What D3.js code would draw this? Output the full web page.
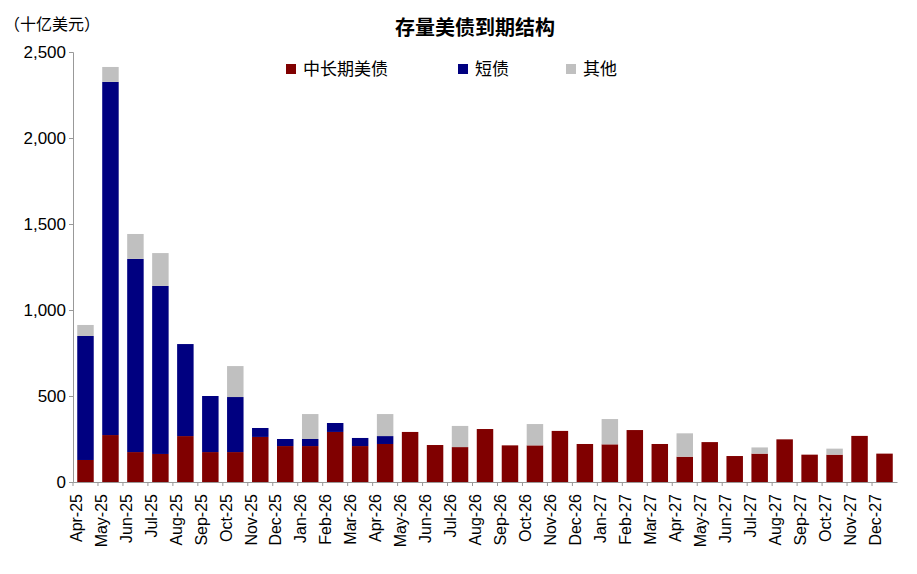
<!DOCTYPE html>
<html><head><meta charset="utf-8">
<script src="https://cdn.jsdelivr.net/npm/d3@7"></script>
<style>body{margin:0;background:#fff;font-family:"Noto Sans CJK SC","Liberation Sans",sans-serif;}</style>
</head><body><svg id="c" width="917" height="574"></svg>
<script>
const categories=["Apr-25","May-25","Jun-25","Jul-25","Aug-25","Sep-25","Oct-25","Nov-25","Dec-25","Jan-26","Feb-26","Mar-26","Apr-26","May-26","Jun-26","Jul-26","Aug-26","Sep-26","Oct-26","Nov-26","Dec-26","Jan-27","Feb-27","Mar-27","Apr-27","May-27","Jun-27","Jul-27","Aug-27","Sep-27","Oct-27","Nov-27","Dec-27"];
const longTerm=[128,273,174,163,267,174,174,262,209,209,291,209,221,291,215,203,308,213,213,297,221,219,302,221,147,232,151,165,248,159,159,268,165];
const bills=[721,2053,1123,977,535,326,320,52,41,41,52,47,46,0,0,0,0,0,0,0,0,0,0,0,0,0,0,0,0,0,0,0,0];
const other=[64,87,145,191,0,0,180,0,0,145,0,0,128,0,0,123,0,0,124,0,0,147,0,0,136,0,0,36,0,0,35,0,0];
const yTicks=[0,500,1000,1500,2000,2500];
const seriesNames=["中长期美债","短债","其他"];
const colors=["#800000","#000080","#c0c0c0"];

const svg=d3.select("#c");
const m={l:73,r:897,t:52,b:482};
const x=d3.scaleBand().domain(categories).range([m.l,m.r]).paddingInner(0.34).paddingOuter(0.17);
const y=d3.scaleLinear().domain([0,2500]).range([m.b,m.t]);
const data=categories.map((c,i)=>({c,"中长期美债":longTerm[i],"短债":bills[i],"其他":other[i]}));
const stack=d3.stack().keys(seriesNames)(data);
svg.selectAll("g.s").data(stack).join("g").attr("fill",(d,i)=>colors[i])
 .selectAll("rect").data(d=>d).join("rect")
 .attr("x",d=>x(d.data.c)).attr("width",x.bandwidth())
 .attr("y",d=>y(d[1])).attr("height",d=>y(d[0])-y(d[1]));

const ya=svg.append("g").attr("transform",`translate(${m.l},0)`)
 .call(d3.axisLeft(y).tickValues(yTicks).tickFormat(d3.format(",")).tickSize(4));
ya.select(".domain").attr("stroke","#999");
ya.selectAll(".tick line").attr("stroke","#999");
ya.selectAll("text").attr("font-size",17).attr("fill","#000").attr("font-family","Liberation Sans, Arial");

const step=x.step();
const xa=svg.append("g").attr("transform",`translate(0,${m.b})`)
 .call(d3.axisBottom(x).tickSize(0));
xa.select(".domain").attr("stroke","#999");
categories.forEach((c,i)=>{xa.append("line").attr("x1",x(c)-x.step()*x.paddingInner()/2).attr("x2",x(c)-x.step()*x.paddingInner()/2).attr("y1",0).attr("y2",4).attr("stroke","#999");});
xa.selectAll(".tick text").attr("font-size",16).attr("fill","#000").attr("font-family","Liberation Sans, Arial")
 .attr("transform","rotate(-90)").attr("text-anchor","end").attr("dx","-0.5em").attr("dy","-0.25em").attr("x",-4).attr("y",x.bandwidth()/2-8);

svg.append("text").attr("x",475).attr("y",35).attr("text-anchor","middle").attr("font-size",20).attr("font-weight","bold").text("存量美债到期结构");
svg.append("text").attr("x",4).attr("y",30).attr("font-size",16).text("（十亿美元）");

const lg=svg.append("g").attr("transform","translate(286,70)");
const lx=[0,172,280];
seriesNames.forEach((n,i)=>{
 const g=lg.append("g").attr("transform",`translate(${lx[i]},0)`);
 g.append("rect").attr("x",0).attr("y",-6).attr("width",10).attr("height",10).attr("fill",colors[i]);
 g.append("text").attr("x",17).attr("y",5).attr("font-size",17).text(n);
});
</script></body></html>
